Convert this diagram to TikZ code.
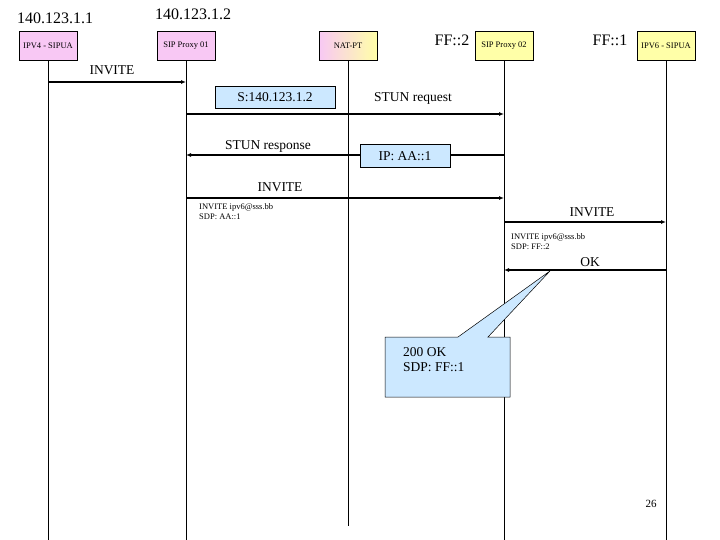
\documentclass[tikz,border=0pt]{standalone}
\usepackage{fontspec}
\setmainfont{Liberation Serif}
\usetikzlibrary{arrows.meta}
\definecolor{pk}{HTML}{F8C8F4}
\definecolor{yl}{HTML}{FFFFA8}
\definecolor{lb}{HTML}{CCE8FF}
\begin{document}
\begin{tikzpicture}[x=1pt,y=-1pt,
 ent/.style={draw,minimum width=58pt,minimum height=29pt,font=\fontsize{8.5}{9}\selectfont,inner sep=1pt},
 msg/.style={line width=1.1pt,-{Latex[length=5pt,width=4pt]}},
 lbl/.style={font=\fontsize{13.5}{15}\selectfont},
 big/.style={font=\fontsize{16}{17}\selectfont},
 sm/.style={font=\fontsize{8.5}{10}\selectfont,align=left,anchor=north west,inner sep=0pt},
 life/.style={line width=0.5pt}]
\useasboundingbox (0,0) rectangle (720,540);
\node[ent,fill=pk] (a) at (48,46) {IPV4 - SIPUA};
\node[ent,fill=pk] (b) at (186,46) {SIP Proxy 01};
\node[ent,left color=pk,right color=yl] (c) at (348,46) {NAT-PT};
\node[ent,fill=yl] (d) at (504,46) {SIP Proxy 02};
\node[ent,fill=yl] (e) at (666,46) {IPV6 - SIPUA};
\node[big] (la) at (55,18) {140.123.1.1};
\node[big] (lb2) at (193,14) {140.123.1.2};
\node[big] (ld) at (452,40) {FF::2};
\node[big] (le) at (610,40) {FF::1};
\coordinate (ae) at (48,540); \coordinate (be) at (186,540);
\coordinate (ce) at (348,526); \coordinate (de) at (504,540); \coordinate (ee) at (666,540);
\draw[life] (a) -- (ae); \draw[life] (b) -- (be); \draw[life] (c) -- (ce);
\draw[life] (d) -- (de); \draw[life] (e) -- (ee);
\coordinate (a1) at (48,82); \coordinate (b1) at (186,82);
\draw[msg] (a1) -- (b1);
\node[lbl] (t1) at (112,70) {INVITE};
\node[draw,fill=lb,minimum width=120pt,minimum height=22pt,lbl] (s1) at (275,97) {S:140.123.1.2};
\coordinate (b2) at (186,114); \coordinate (d2) at (504,114);
\draw[msg] (b2) -- (d2);
\node[lbl] (t2) at (413,98) {STUN request};
\coordinate (b3) at (186,155); \coordinate (d3) at (504,155);
\draw[msg] (d3) -- (b3);
\node[lbl] (t3) at (268,146) {STUN response};
\node[draw,fill=lb,minimum width=90pt,minimum height=23pt,lbl] (s2) at (405,156) {IP: AA::1};
\coordinate (b4) at (186,198); \coordinate (d4) at (504,198);
\draw[msg] (b4) -- (d4);
\node[lbl] (t4) at (280,187) {INVITE};
\node[sm] (n4) at (199,203) {INVITE ipv6@sss.bb\\SDP:\ AA::1};
\coordinate (d5) at (504,222); \coordinate (e5) at (666,222);
\draw[msg] (d5) -- (e5);
\node[lbl] (t5) at (592,212) {INVITE};
\node[sm] (n5) at (511,233) {INVITE ipv6@sss.bb\\SDP:\ FF::2};
\coordinate (d6) at (504,270); \coordinate (e6) at (666,270);
\draw[msg] (e6) -- (d6);
\node[lbl] (t6) at (590,262) {OK};
\coordinate (tip) at (550,271);
\draw[fill=lb,line width=0.5pt] (385,337) -- (458,337) -- (tip) -- (488,337) -- (510,337) -- (510,397) -- (385,397) -- cycle;
\node[lbl,align=left,anchor=north west,inner sep=0pt] (co) at (403,347) {200 OK\\SDP: FF::1};
\node[font=\fontsize{11}{12}\selectfont] (pg) at (651,504) {26};
\end{tikzpicture}
\end{document}
